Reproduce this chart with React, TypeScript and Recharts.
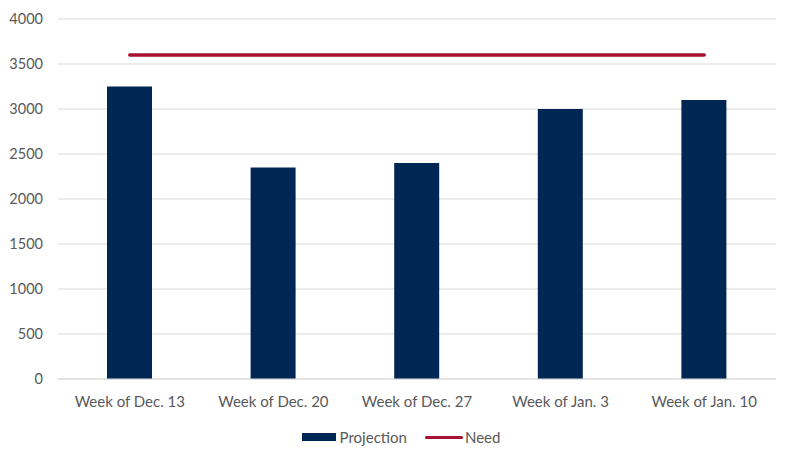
import React from "react";
import { ComposedChart, Bar, Line, XAxis, YAxis, CartesianGrid, Legend } from "recharts";

const categories = ["Week of Dec. 13", "Week of Dec. 20", "Week of Dec. 27", "Week of Jan. 3", "Week of Jan. 10"];
const projection = [3250, 2350, 2400, 3000, 3100];
const need = [3600, 3600, 3600, 3600, 3600];
const yTicks = [0, 500, 1000, 1500, 2000, 2500, 3000, 3500, 4000];

const data = categories.map((c, i) => ({ name: c, projection: projection[i], need: need[i] }));

const NAVY = "#002654";
const RED = "#A5112E";
const FONT = "Lato, 'Open Sans', sans-serif";

const renderLegend = () => (
  <div style={{ display: "flex", justifyContent: "center", alignItems: "center", fontFamily: FONT, fontSize: 15, color: "#595959", height: 26, paddingLeft: 26 }}>
    <span style={{ display: "inline-block", width: 34, height: 8, background: NAVY, marginRight: 4 }} />
    <span style={{ marginRight: 18 }}>Projection</span>
    <span style={{ display: "inline-block", width: 38, height: 3, background: RED, borderRadius: 2, marginRight: 2 }} />
    <span>Need</span>
  </div>
);

export default function App() {
  return (
    <div style={{ position: "fixed", left: 0, top: 0, width: 795, height: 463, background: "#fff" }}>
      <ComposedChart width={795} height={463} data={data} margin={{ top: 19, right: 19, bottom: 13, left: 0 }}>
        <CartesianGrid vertical={false} stroke="#d9d9d9" strokeWidth={1} />
        <XAxis
          dataKey="name"
          axisLine={{ stroke: "#d9d9d9" }}
          tickLine={false}
          tickMargin={11}
          height={45}
          tick={{ fill: "#595959", fontSize: 15, fontFamily: FONT }}
          interval={0}
        />
        <YAxis
          domain={[0, 4000]}
          ticks={yTicks}
          width={58}
          axisLine={false}
          tickLine={false}
          tickMargin={9}
          tick={{ fill: "#595959", fontSize: 14.5, fontFamily: FONT }}
          interval={0}
        />
        <Legend verticalAlign="bottom" height={26} content={renderLegend} />
        <Bar dataKey="projection" name="Projection" fill={NAVY} barSize={45} isAnimationActive={false} />
        <Line dataKey="need" name="Need" stroke={RED} strokeWidth={3.5} strokeLinecap="round" dot={false} activeDot={false} isAnimationActive={false} />
      </ComposedChart>
    </div>
  );
}
